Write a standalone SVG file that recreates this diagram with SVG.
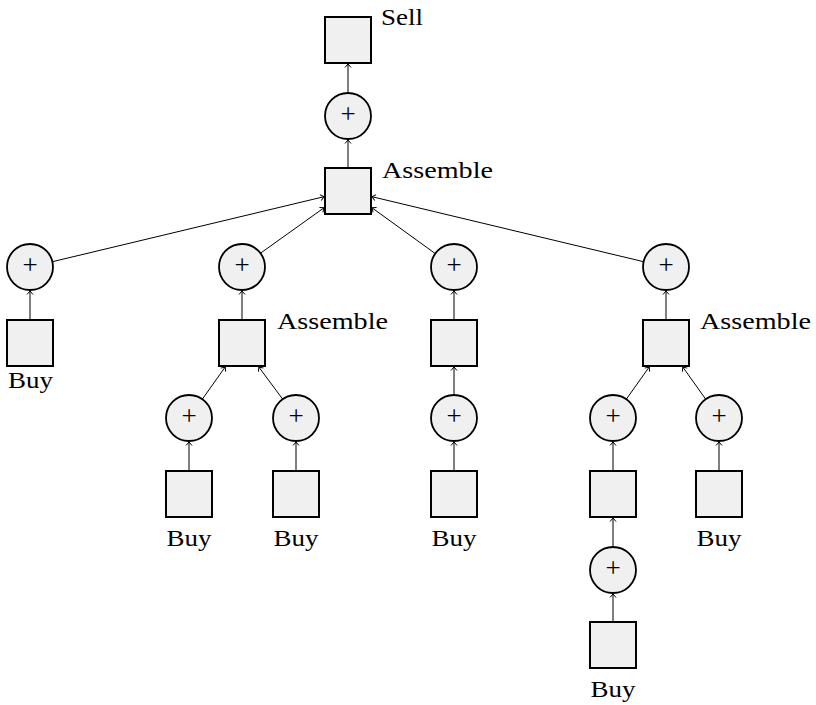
<svg xmlns="http://www.w3.org/2000/svg" width="816" height="705" viewBox="0 0 816 705">
<style>
.sq{fill:#f0f0f0;stroke:#000;stroke-width:2}
.ci{fill:#f0f0f0;stroke:#000;stroke-width:1.8}
.pl{font-family:"Liberation Serif",serif;font-size:27px;text-anchor:middle;fill:#000}
.lb{font-family:"Liberation Serif",serif;font-size:24px;fill:#000}
.lbc{font-family:"Liberation Serif",serif;font-size:24px;fill:#000;text-anchor:middle}
.e{stroke:#000;stroke-width:1;fill:none;marker-end:url(#ah)}
</style>
<defs>
<marker id="ah" markerUnits="userSpaceOnUse" markerWidth="10" markerHeight="10" refX="0" refY="0" viewBox="-5 -5 10 10" orient="auto" overflow="visible">
<path d="M-3.5,-3 L0,0 L-3.5,3" fill="none" stroke="#000" stroke-width="1"/>
</marker>
</defs>
<g id="connectors">
<line class="e" x1="348" y1="93" x2="348" y2="64"/>
<line class="e" x1="348" y1="168" x2="348" y2="140"/>
<line class="e" x1="52.4" y1="261.7" x2="324" y2="196.7"/>
<line class="e" x1="259.8" y1="253.7" x2="324" y2="207.8"/>
<line class="e" x1="435.3" y1="253.6" x2="372" y2="207.8"/>
<line class="e" x1="643.6" y1="261.7" x2="372" y2="196.7"/>
<line class="e" x1="30" y1="320" x2="30" y2="291"/>
<line class="e" x1="242" y1="320" x2="242" y2="291"/>
<line class="e" x1="202.3" y1="399.2" x2="225.2" y2="367"/>
<line class="e" x1="282.7" y1="399.2" x2="258.8" y2="367"/>
<line class="e" x1="189" y1="471" x2="189" y2="442"/>
<line class="e" x1="296" y1="471" x2="296" y2="442"/>
<line class="e" x1="454" y1="320" x2="454" y2="291"/>
<line class="e" x1="454" y1="395" x2="454" y2="367"/>
<line class="e" x1="454" y1="471" x2="454" y2="442"/>
<line class="e" x1="666" y1="320" x2="666" y2="291"/>
<line class="e" x1="626.3" y1="399.2" x2="649.2" y2="367"/>
<line class="e" x1="705.7" y1="399.2" x2="682.8" y2="367"/>
<line class="e" x1="613" y1="471" x2="613" y2="442"/>
<line class="e" x1="613" y1="547" x2="613" y2="518"/>
<line class="e" x1="613" y1="622" x2="613" y2="594"/>
<line class="e" x1="719" y1="471" x2="719" y2="442"/>
</g>
<g id="sell"><rect class="sq" x="325" y="17" width="46" height="46"/><text class="lb" x="381" y="25" textLength="42" lengthAdjust="spacingAndGlyphs">Sell</text></g>
<g id="p0"><circle class="ci" cx="348" cy="116" r="23"/><text class="pl" x="348" y="123">+</text></g>
<g id="asm0"><rect class="sq" x="325" y="168" width="46" height="46"/><text class="lb" x="382" y="178" textLength="111" lengthAdjust="spacingAndGlyphs">Assemble</text></g>

<g id="p1"><circle class="ci" cx="30" cy="267" r="23"/><text class="pl" x="30" y="274">+</text></g>
<g id="buy1"><rect class="sq" x="7" y="320" width="46" height="46"/><text class="lbc" x="30.5" y="388" textLength="45" lengthAdjust="spacingAndGlyphs">Buy</text></g>

<g id="p2"><circle class="ci" cx="242" cy="267" r="23"/><text class="pl" x="242" y="274">+</text></g>
<g id="asm2"><rect class="sq" x="219" y="320" width="46" height="46"/><text class="lb" x="277" y="329" textLength="111" lengthAdjust="spacingAndGlyphs">Assemble</text></g>
<g id="p2a"><circle class="ci" cx="189" cy="418" r="23"/><text class="pl" x="189" y="425">+</text></g>
<g id="buy2a"><rect class="sq" x="166" y="471" width="46" height="46"/><text class="lbc" x="189" y="546" textLength="45" lengthAdjust="spacingAndGlyphs">Buy</text></g>
<g id="p2b"><circle class="ci" cx="296" cy="418" r="23"/><text class="pl" x="296" y="425">+</text></g>
<g id="buy2b"><rect class="sq" x="273" y="471" width="46" height="46"/><text class="lbc" x="296" y="546" textLength="45" lengthAdjust="spacingAndGlyphs">Buy</text></g>

<g id="p3"><circle class="ci" cx="454" cy="267" r="23"/><text class="pl" x="454" y="274">+</text></g>
<g id="sq3"><rect class="sq" x="431" y="320" width="46" height="46"/></g>
<g id="p3a"><circle class="ci" cx="454" cy="418" r="23"/><text class="pl" x="454" y="425">+</text></g>
<g id="buy3"><rect class="sq" x="431" y="471" width="46" height="46"/><text class="lbc" x="454" y="546" textLength="45" lengthAdjust="spacingAndGlyphs">Buy</text></g>

<g id="p4"><circle class="ci" cx="666" cy="267" r="23"/><text class="pl" x="666" y="274">+</text></g>
<g id="asm4"><rect class="sq" x="643" y="320" width="46" height="46"/><text class="lb" x="700" y="329" textLength="111" lengthAdjust="spacingAndGlyphs">Assemble</text></g>
<g id="p4a"><circle class="ci" cx="613" cy="418" r="23"/><text class="pl" x="613" y="425">+</text></g>
<g id="sq4a"><rect class="sq" x="590" y="471" width="46" height="46"/></g>
<g id="p4c"><circle class="ci" cx="613" cy="570" r="23"/><text class="pl" x="613" y="577">+</text></g>
<g id="buy4c"><rect class="sq" x="590" y="622" width="46" height="46"/><text class="lbc" x="613" y="697" textLength="45" lengthAdjust="spacingAndGlyphs">Buy</text></g>
<g id="p4b"><circle class="ci" cx="719" cy="418" r="23"/><text class="pl" x="719" y="425">+</text></g>
<g id="buy4b"><rect class="sq" x="696" y="471" width="46" height="46"/><text class="lbc" x="719" y="546" textLength="45" lengthAdjust="spacingAndGlyphs">Buy</text></g>
</svg>
